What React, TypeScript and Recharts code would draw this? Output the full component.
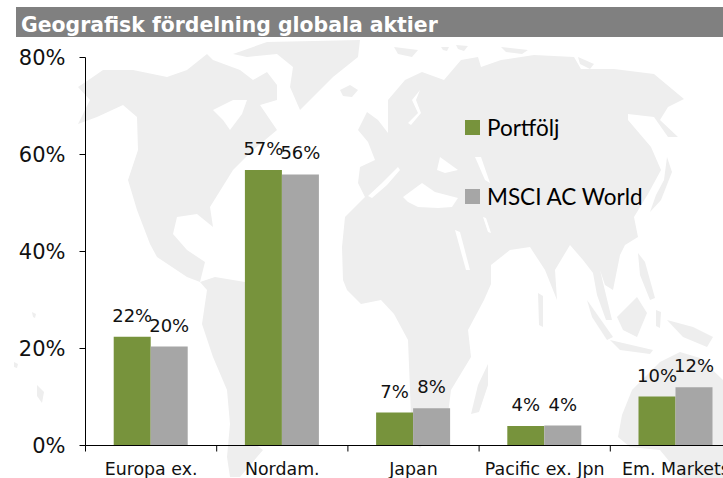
import {
  BarChart,
  Bar,
  XAxis,
  YAxis,
  LabelList,
  Legend,
} from "recharts";

const categories = ["Europa ex.", "Nordam.", "Japan", "Pacific ex. Jpn", "Em. Markets"];
const portfolj = [22.4, 56.8, 6.8, 4.0, 10.1];
const msci = [20.4, 55.9, 7.7, 4.1, 12.0];
const yTicks = [0, 20, 40, 60, 80];

const chartData = categories.map((name, i) => ({
  name,
  portfolj: portfolj[i],
  msci: msci[i],
}));

const GREEN = "#77933C";
const GREY = "#A6A6A6";
const LAND = "#EEEEEE";
const FONT = "'DejaVu Sans', Verdana, sans-serif";
const BAND = 131.2;

// faint world map behind the plot, only decoration
const landPaths = [
  // north + central america
  "M78,87 L90,79 103,70 133,70 167,77 187,70 207,54 213,60 240,70 253,80 267,72 277,85 277,100 260,105 277,130 253,150 233,170 210,207 213,227 197,214 177,217 173,234 187,250 205,262 200,282 187,277 157,257 150,244 137,210 128,180 138,150 137,117 123,105 97,117 78,124 90,100 Z",
  // greenland
  "M233,54 L267,42 360,40 358,57 333,77 300,110 290,87 293,67 277,54 247,57 Z",
  // south america
  "M200,282 L215,277 245,282 290,300 318,330 300,370 270,400 250,440 263,450 240,477 230,477 227,457 230,424 227,390 213,357 202,324 207,290 Z",
  // iceland
  "M340,90 L350,85 358,90 352,97 343,96 Z",
  // africa + eurasia
  "M343,280 L342,247 345,217 365,197 358,183 360,167 375,160 368,142 358,130 367,112 378,120 388,133 388,100 405,80 422,72 444,80 461,60 478,57 481,67 501,60 534,55 574,57 581,69 614,69 654,74 684,99 668,107 660,120 678,137 668,137 654,117 628,114 628,120 651,147 661,170 648,194 634,217 638,237 625,245 620,255 613,290 605,285 600,270 612,320 606,320 597,295 593,273 583,260 570,245 555,270 557,300 545,270 530,247 510,250 491,265 491,284 484,300 468,330 471,357 451,390 448,414 420,448 412,440 408,340 394,314 381,300 361,304 347,290 Z",
  // madagascar
  "M471,414 L478,385 488,364 488,385 479,412 Z",
  // arctic islands
  "M394,47 L418,50 412,57 398,54 Z",
  "M441,47 L449,47 447,51 443,50 Z",
  "M456,45 L468,46 464,51 458,49 Z",
  "M501,47 L528,50 522,54 506,52 Z",
  "M578,57 L594,64 590,69 580,64 Z",
  // japan
  "M667,157 L672,172 661,200 650,212 656,195 664,180 Z",
  // philippines, sumatra, java, borneo, sulawesi, new guinea
  "M638,253 L645,262 655,298 650,300 640,275 Z",
  "M587,300 L613,337 607,340 592,317 Z",
  "M610,340 L653,350 650,354 620,350 Z",
  "M617,317 L637,297 647,313 637,337 623,330 Z",
  "M656,310 L661,312 660,328 656,326 Z",
  "M667,320 L693,327 713,337 707,347 683,337 Z",
  // australia
  "M618,437 L622,415 632,390 660,362 680,352 700,358 723,380 723,478 683,478 660,450 630,447 Z",
  // sri lanka side, pacific specks
  "M538,293 L543,296 543,327 539,325 Z",
  "M14,362 L18,364 17,368 14,367 Z",
  "M32,312 L36,314 35,318 33,317 Z",
  "M37,385 L44,392 42,403 37,396 Z",
];

const waterPaths = [
  // hudson bay
  "M213,110 L233,100 247,100 242,114 230,130 223,120 Z",
  // baltic
  "M420,90 L412,100 418,113 408,123 411,125 421,113 416,100 Z",
  // mediterranean
  "M368,196 L382,183 398,167 400,170 387,185 372,198 Z",
  "M403,197 L422,183 435,192 458,198 452,207 438,208 418,207 408,202 Z",
  // black sea, caspian
  "M437,170 L440,157 458,170 445,173 Z",
  "M475,157 L481,157 490,183 485,180 Z",
  // red sea, persian gulf
  "M455,230 L460,232 470,270 466,270 Z",
  "M483,217 L486,218 491,233 488,232 Z",
];

function WorldMap() {
  return (
    <svg
      width={723}
      height={478}
      style={{ position: "absolute", left: 0, top: 0 }}
    >
      {landPaths.map((d, i) => (
        <path key={i} d={d} fill={LAND} />
      ))}
      {waterPaths.map((d, i) => (
        <path key={i} d={d} fill="#ffffff" />
      ))}
    </svg>
  );
}

function CategoryTick({ x, y, payload }: any) {
  const left = x - BAND / 2;
  return (
    <g>
      <line x1={left} x2={left} y1={y} y2={y + 6} stroke="#000" />
      <text x={x} y={y + 29} textAnchor="middle" fontSize={17.4} fontFamily={FONT} fill="#111">
        {payload.value}
      </text>
    </g>
  );
}

function LegendBox({ payload }: any) {
  return (
    <div>
      {(payload ?? []).map((entry: any) => (
        <div
          key={entry.value}
          style={{ display: "flex", alignItems: "center", height: 30, marginBottom: 39 }}
        >
          <span style={{ width: 15, height: 15, background: entry.color, marginRight: 7 }} />
          <span style={{ fontFamily: "Lato, sans-serif", fontSize: 22.5, color: "#000" }}>
            {entry.value}
          </span>
        </div>
      ))}
    </div>
  );
}

const percent = (v: number) => `${v.toFixed(0)}%`;

export default function App() {
  return (
    <div
      style={{
        position: "absolute",
        left: 0,
        top: 0,
        width: 723,
        height: 478,
        overflow: "hidden",
        background: "#fff",
      }}
    >
      <WorldMap />
      <div
        style={{
          position: "absolute",
          left: 16,
          top: 7,
          width: 707,
          height: 30,
          background: "#808080",
          color: "#fff",
          fontFamily: FONT,
          fontWeight: 700,
          fontSize: 20.4,
          lineHeight: "37px",
          paddingLeft: 5,
          boxSizing: "border-box",
          whiteSpace: "nowrap",
        }}
      >
        Geografisk fördelning globala aktier
      </div>
      <div style={{ position: "absolute", left: 0, top: 0 }}>
        <BarChart
          width={745}
          height={478}
          data={chartData}
          margin={{ top: 57.5, right: 3.5, bottom: 0, left: 0.5 }}
          barCategoryGap="21.5%"
          barGap={0}
        >
          <XAxis
            dataKey="name"
            height={32.5}
            stroke="#000"
            tickLine={false}
            tickSize={0}
            tickMargin={0}
            interval={0}
            tick={<CategoryTick />}
          />
          <YAxis
            width={85}
            domain={[0, 80]}
            ticks={yTicks}
            stroke="#000"
            tickSize={6}
            tickMargin={14}
            tickFormatter={percent}
            tick={{ fontSize: 21, fontFamily: FONT, fill: "#111" }}
          />
          <Legend
            content={<LegendBox />}
            layout="vertical"
            align="center"
            verticalAlign="middle"
            itemSorter={null}
            wrapperStyle={{ position: "absolute", left: 465, top: 112, width: 220, height: 140 }}
          />
          <Bar dataKey="portfolj" name="Portfölj" fill={GREEN} isAnimationActive={false}>
            <LabelList
              dataKey="portfolj"
              position="top"
              offset={15}
              formatter={percent}
              style={{ fontSize: 18, fontFamily: FONT, fill: "#111" }}
            />
          </Bar>
          <Bar dataKey="msci" name="MSCI AC World" fill={GREY} isAnimationActive={false}>
            <LabelList
              dataKey="msci"
              position="top"
              offset={15}
              formatter={percent}
              style={{ fontSize: 18, fontFamily: FONT, fill: "#111" }}
            />
          </Bar>
        </BarChart>
      </div>
    </div>
  );
}
